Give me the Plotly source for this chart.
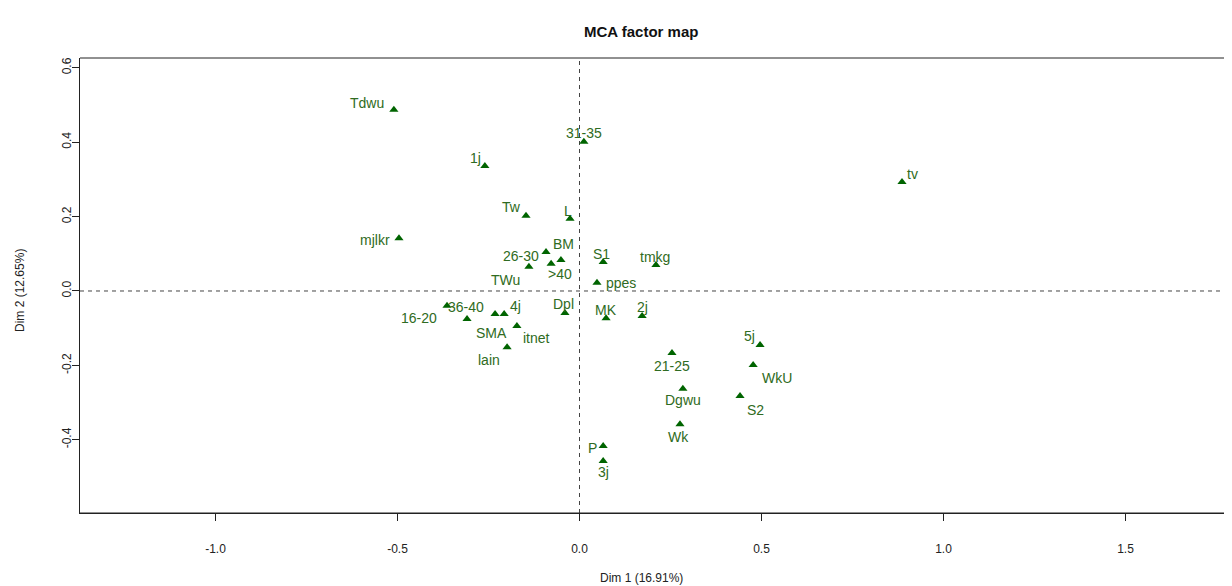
import plotly.graph_objects as go

# ---- data ----
labels = ["Tdwu", "31-35", "1j", "Tw", "L", "mjlkr", "BM", "26-30", ">40", "TWu",
          "S1", "tmkg", "ppes", "Dpl", "MK", "2j", "16-20", "36-40", "4j", "SMA",
          "itnet", "lain", "21-25", "5j", "WkU", "Dgwu", "S2", "Wk", "P", "3j", "tv"]
dim1 = [-0.510, 0.012, -0.260, -0.147, -0.026, -0.496, -0.051, -0.092, -0.078, -0.139,
        0.065, 0.210, 0.048, -0.040, 0.073, 0.172, -0.364, -0.309, -0.207, -0.232,
        -0.172, -0.199, 0.254, 0.496, 0.477, 0.284, 0.441, 0.276, 0.065, 0.065, 0.886]
dim2 = [0.487, 0.401, 0.336, 0.202, 0.194, 0.142, 0.083, 0.105, 0.073, 0.065,
        0.078, 0.070, 0.022, -0.059, -0.073, -0.067, -0.040, -0.075, -0.062, -0.062,
        -0.094, -0.151, -0.167, -0.145, -0.199, -0.263, -0.282, -0.358, -0.417, -0.457, 0.293]
x_ticks = [-1.0, -0.5, 0.0, 0.5, 1.0, 1.5]
y_ticks = [-0.4, -0.2, 0.0, 0.2, 0.4, 0.6]
title = "MCA factor map"
x_title = "Dim 1 (16.91%)"
y_title = "Dim 2 (12.65%)"

# ---- label placement (screen pixel offsets, dx right, dy down) ----
label_offsets = {
    "Tdwu": (-27, -7), "31-35": (0, -9), "1j": (-9, -8), "Tw": (-15, -9), "L": (-2, -8),
    "mjlkr": (-24, 2), "BM": (3, -16), "26-30": (-25, 4), ">40": (9, 10), "TWu": (-23, 13),
    "S1": (-2, -8), "tmkg": (-1, -8), "ppes": (24, 0), "Dpl": (-1, -9), "MK": (0, -8),
    "2j": (0, -9), "16-20": (-28, 12), "36-40": (-1, -12), "4j": (11, -8), "SMA": (-4, 19),
    "itnet": (20, 12), "lain": (-18, 13), "21-25": (0, 13), "5j": (-11, -9), "WkU": (24, 13),
    "Dgwu": (0, 11), "S2": (15, 14), "Wk": (-1, 13), "P": (-11, 2), "3j": (0, 11), "tv": (10, -8),
}

GREEN = "#006400"
TEXT_GREEN = "#2f6b22"
FONT = "Liberation Sans, Arial, sans-serif"

# the page body has an 8px default margin; the figure is sized to compensate
PAGE_OFFSET = 8
W, H = 1232 - 2 * PAGE_OFFSET, 586 - PAGE_OFFSET
M_L, M_T, M_B = 80 - PAGE_OFFSET, 58 - PAGE_OFFSET, 73
PLOT_W = W - M_L
X_LEFT, X_RIGHT = -1.3723, 1.7706

fig = go.Figure()
fig.add_trace(go.Scatter(
    x=dim1, y=dim2, mode="markers",
    marker=dict(symbol="triangle-up", size=8, color=GREEN),
    hoverinfo="text", text=labels, showlegend=False, cliponaxis=False,
))

for lab, xv, yv in zip(labels, dim1, dim2):
    dx, dy = label_offsets[lab]
    fig.add_annotation(x=xv, y=yv, xref="x", yref="y", text=lab, showarrow=False,
                       xshift=dx, yshift=-dy, xanchor="center", yanchor="middle",
                       font=dict(family=FONT, size=14, color=TEXT_GREEN))

# reference dashed lines at 0 (the horizontal one runs on past the page edge)
dash_style = dict(color="#444444", width=1, dash="4px,4px")
fig.add_shape(type="line", xref="x", yref="paper", x0=0, x1=0, y0=0, y1=1, line=dash_style, layer="below")
fig.add_shape(type="line", xref="paper", yref="y", x0=0, x1=1.01, y0=0, y1=0, line=dash_style, layer="below")
# top border of the box
fig.add_shape(type="line", xref="paper", yref="paper", x0=0, x1=1.01, y0=1, y1=1,
              line=dict(color="#222222", width=1))
fig.add_shape(type="line", xref="paper", yref="paper", x0=0, x1=1.01, y0=0, y1=0,
              line=dict(color="#222222", width=1))

fig.add_annotation(xref="paper", yref="paper", x=(641 - 80) / PLOT_W, y=1, yshift=27,
                   text="<b>" + title + "</b>", showarrow=False, xanchor="center", yanchor="middle",
                   font=dict(family=FONT, size=15, color="#111111"))
fig.add_annotation(xref="paper", yref="paper", x=(641 - 80) / PLOT_W, y=0, yshift=-65,
                   text=x_title, showarrow=False, xanchor="center", yanchor="middle",
                   font=dict(family=FONT, size=12, color="#222222"))
fig.add_annotation(xref="paper", yref="y", x=0, y=0, xshift=-60,
                   text=y_title, showarrow=False, xanchor="center", yanchor="middle", textangle=-90,
                   font=dict(family=FONT, size=12, color="#222222"))

fig.update_layout(
    width=W, height=H,
    margin=dict(l=M_L, r=0, t=M_T, b=M_B, autoexpand=False),
    paper_bgcolor="white", plot_bgcolor="white",
    font=dict(family=FONT, size=12, color="#222222"),
)
fig.update_xaxes(
    range=[X_LEFT, X_RIGHT], tickvals=x_ticks, ticktext=[f"{v:.1f}" for v in x_ticks],
    showgrid=False, zeroline=False, showline=True, linecolor="#222222", linewidth=1,
    ticks="outside", ticklen=7, tickcolor="#222222", ticklabelstandoff=18, automargin=False,
    tickfont=dict(family=FONT, size=12, color="#222222"),
)
fig.update_yaxes(
    range=[-0.5968, 0.6263], tickvals=y_ticks, ticktext=[f"{v:.1f}" for v in y_ticks],
    showgrid=False, zeroline=False, showline=True, linecolor="#222222", linewidth=1,
    ticks="outside", ticklen=7, tickcolor="#222222", tickangle=-90, ticklabelstandoff=-4,
    automargin=False,
    tickfont=dict(family=FONT, size=12, color="#222222"),
)

fig.write_html(
    "out.html",
    config={"displayModeBar": False},
    post_script="document.documentElement.style.overflow='hidden';document.body.style.overflow='hidden';",
)
